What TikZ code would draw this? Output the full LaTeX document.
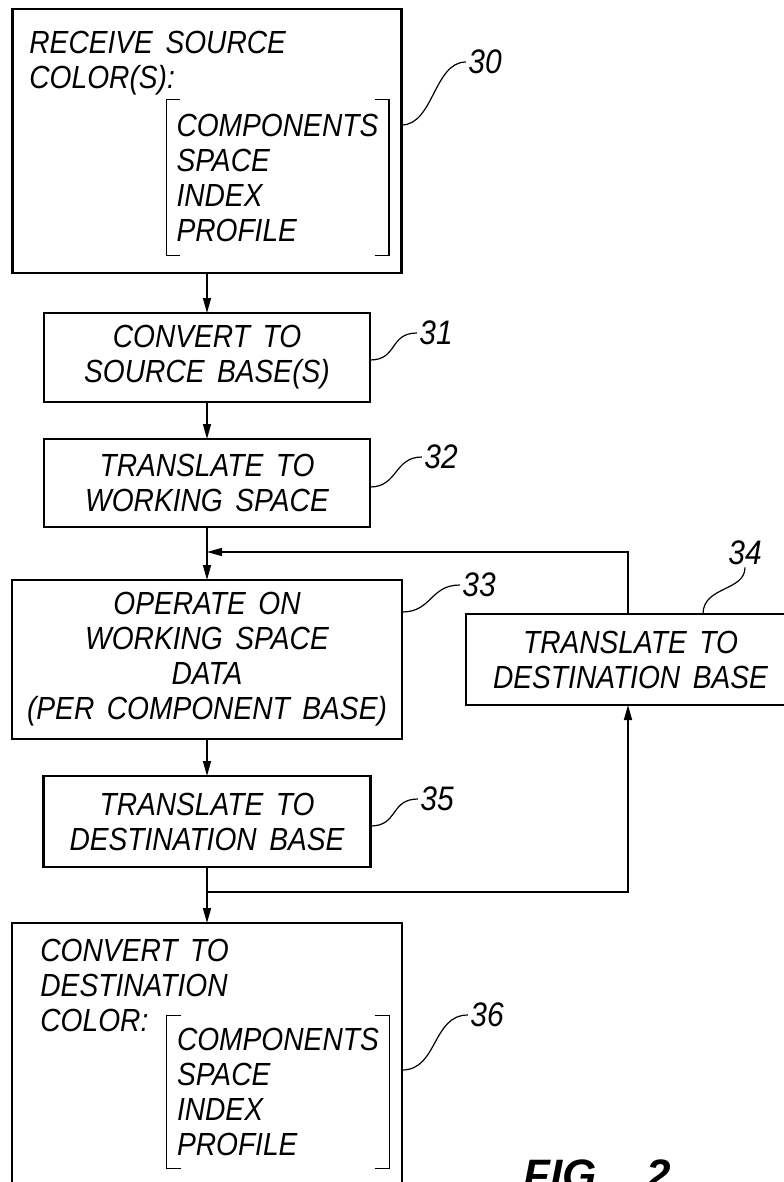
\documentclass[tikz,border=0pt]{standalone}
\usepackage{fontspec}
\newfontfamily\lettering[FakeStretch=0.88,WordSpace=1.6]{Liberation Sans}
\newfontfamily\figfont{Liberation Sans}
\usetikzlibrary{arrows.meta,positioning}

\tikzset{
  stepbox/.style={draw,rectangle,line width=1.2pt,inner sep=0pt,outer sep=0pt,align=center,
    font=\lettering\itshape\fontsize{16}{17.5}\selectfont},
  boxtext/.style={inner sep=0pt,align=left,font=\lettering\itshape\fontsize{16}{17.5}\selectfont},
  listbox/.style={inner xsep=5pt,inner ysep=0pt,minimum width=111pt,text width=101pt,align=left,
    font=\lettering\itshape\fontsize{16}{17.5}\selectfont},
  bracket/.style={line width=0.6pt},
  flowline/.style={line width=0.8pt},
  refnum/.style={inner sep=1pt,font=\lettering\itshape\fontsize{17}{17}\selectfont},
  leader/.style={line width=0.6pt},
}

\begin{document}
\begin{tikzpicture}[x=0.5pt,y=-0.5pt]
  \tikzset{>={Triangle[length=7.5pt,width=4pt]}}
  \useasboundingbox (0,0) rectangle (783,1182);

%%%%%%%%%%%%%%%%%%%%%%%%%%
  \node[stepbox,minimum width=194.5pt,minimum height=132pt] (B30) at (207,141) {};
  \node[boxtext,anchor=north west] (T30) at (29,31) {RECEIVE SOURCE\\COLOR(S):};
  \node[listbox,minimum height=77.5pt] (L30) at (277.5,177.5) {COMPONENTS\\SPACE\\INDEX\\PROFILE};
  \draw[bracket] ([xshift=7pt]L30.north west) -- (L30.north west) -- (L30.south west) -- ([xshift=7pt]L30.south west);
  \draw[bracket] ([xshift=-7pt]L30.north east) -- (L30.north east) -- (L30.south east) -- ([xshift=-7pt]L30.south east);

%%%%%%%%%%%%%%%%%%%%%%%%%%
  \node[stepbox,minimum width=163pt,minimum height=44.5pt] (B31) at (207,357.5) {CONVERT TO\\SOURCE BASE(S)};
  \node[stepbox,minimum width=163pt,minimum height=44pt] (B32) at (207,483) {TRANSLATE TO\\WORKING SPACE};
  \node[stepbox,minimum width=195pt,minimum height=79.5pt] (B33) at (207,659.5) {OPERATE ON\\WORKING SPACE\\DATA\\(PER COMPONENT BASE)};
  \node[stepbox,minimum width=164.5pt,minimum height=45.5pt] (B34) at (630.5,659.5) {TRANSLATE TO\\DESTINATION BASE};
  \node[stepbox,minimum width=163.5pt,minimum height=45.5pt] (B35) at (207,821.5) {TRANSLATE TO\\DESTINATION BASE};

%%%%%%%%%%%%%%%%%%%%%%%%%%
  \node[stepbox,anchor=north,minimum width=195pt,minimum height=150pt] (B36) at (207,923) {};
  \node[boxtext,anchor=north west] (T36) at (40,939) {CONVERT TO\\DESTINATION\\COLOR:};
  \node[listbox,minimum height=76pt] (L36) at (278,1092) {COMPONENTS\\SPACE\\INDEX\\PROFILE};
  \draw[bracket] ([xshift=7pt]L36.north west) -- (L36.north west) -- (L36.south west) -- ([xshift=7pt]L36.south west);
  \draw[bracket] ([xshift=-7pt]L36.north east) -- (L36.north east) -- (L36.south east) -- ([xshift=-7pt]L36.south east);

%DOWN
  \coordinate (JUp) at (207,552);
  \coordinate (JDown) at (207,892);
  \draw[flowline,->] (B30) -- (B31);
  \draw[flowline,->] (B31) -- (B32);
  \draw[flowline,->] (B32) -- (B33);
  \draw[flowline,->] (B33) -- (B35);
  \draw[flowline,->] (B35) -- (B36);

% LOOP
  \draw[flowline,->] (JDown) -| ([xshift=-1.25pt]B34.south);
  \draw[flowline,->] ([xshift=-1.25pt]B34.north) |- (JUp);

%REFERENCE NUMBERS
  \node[refnum] (R30) at (485,62) {30};
  \node[refnum] (R31) at (436,333) {31};
  \node[refnum] (R32) at (441,457) {32};
  \node[refnum] (R33) at (479,585) {33};
  \node[refnum] (R34) at (745,553) {34};
  \node[refnum] (R35) at (437,799) {35};
  \node[refnum] (R36) at (487,1015) {36};

  \draw[leader] ([yshift=8pt]B30.east) .. controls +(16pt,0) and +(-16pt,0) .. (R30.west);
  \draw[leader] ([yshift=-1.25pt]B31.east) .. controls +(14pt,0) and +(-14pt,0) .. (R31.west);
  \draw[leader] ([yshift=-2pt]B32.east) .. controls +(14pt,0) and +(-14pt,0) .. (R32.west);
  \draw[leader] ([yshift=23.75pt]B33.east) .. controls +(15pt,0) and +(-15pt,0) .. (R33.west);
  \draw[leader] ([xshift=36.25pt]B34.north) .. controls +(0,14pt) and +(0,-12pt) .. (R34.south);
  \draw[leader] ([yshift=-2.25pt]B35.east) .. controls +(14pt,0) and +(-14pt,0) .. (R35.west);
  \draw[leader] ([yshift=1.5pt]B36.east) .. controls +(18pt,0) and +(-18pt,0) .. (R36.west);

  \node[anchor=base west,inner sep=0pt,font=\figfont\bfseries\itshape\fontsize{22}{22}\selectfont] (Fig) at (523,1190) {FIG.\hspace{19pt}2};

\end{tikzpicture}
\end{document}
